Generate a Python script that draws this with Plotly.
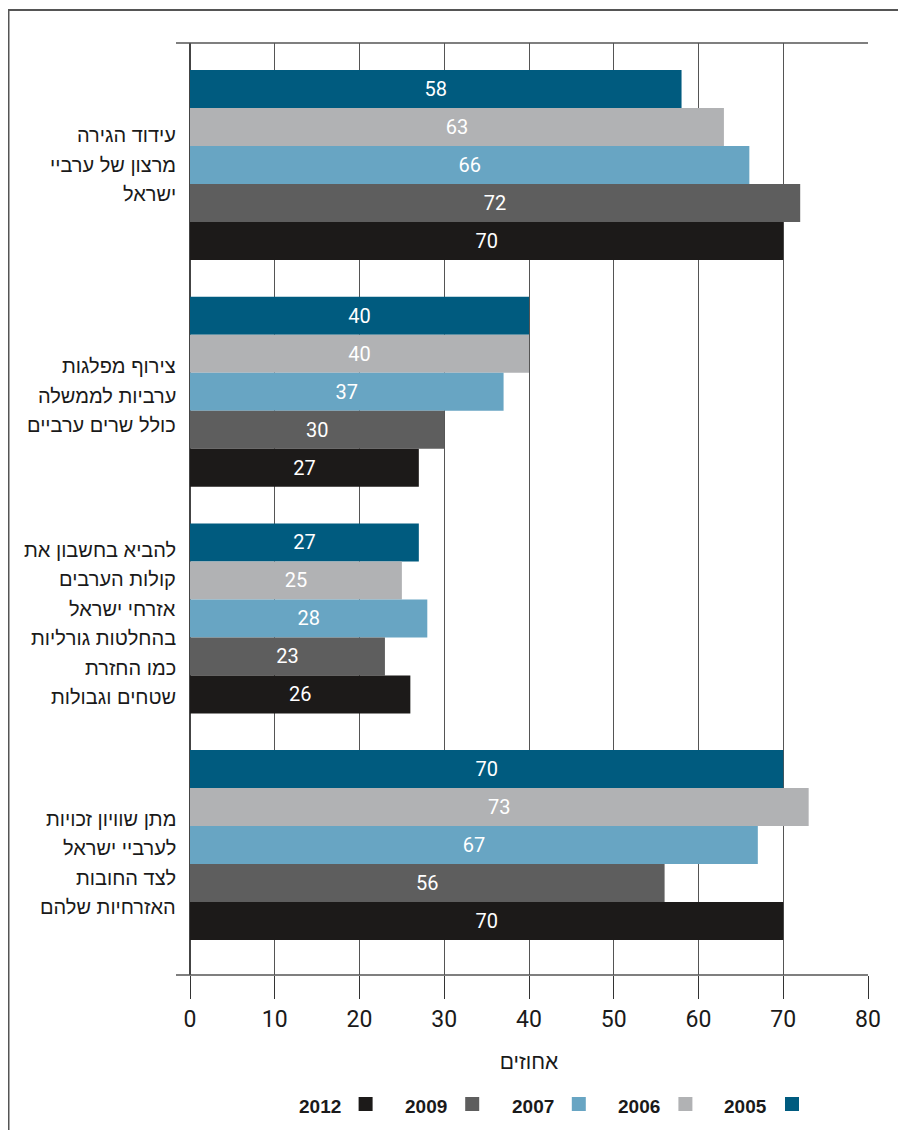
import plotly.graph_objects as go

categories = [
    "עידוד הגירה<br>מרצון של ערביי<br>ישראל",
    "צירוף מפלגות<br>ערביות לממשלה<br>כולל שרים ערביים",
    "להביא בחשבון את<br>קולות הערבים<br>אזרחי ישראל<br>בהחלטות גורליות<br>כמו החזרת<br>שטחים וגבולות",
    "מתן שוויון זכויות<br>לערביי ישראל<br>לצד החובות<br>האזרחיות שלהם",
]
years = ["2005", "2006", "2007", "2009", "2012"]
values_2005 = [58, 40, 27, 70]
values_2006 = [63, 40, 25, 73]
values_2007 = [66, 37, 28, 67]
values_2009 = [72, 30, 23, 56]
values_2012 = [70, 27, 26, 70]
series = [values_2005, values_2006, values_2007, values_2009, values_2012]
colors = ["#005B7F", "#B1B2B4", "#68A5C3", "#5E5E5E", "#1C1A19"]
x_ticks = [0, 10, 20, 30, 40, 50, 60, 70, 80]
x_title = "אחוזים"

NUMF = "Roboto, Liberation Sans, sans-serif"
HEBF = "Liberation Sans, Arial, sans-serif"

OFF = 8  # page body margin
W, H = 906 - OFF, 1130 - OFF
L, R, T, B = 190 - OFF, 868 - OFF, 43 - OFF, 975 - OFF
pw, ph = R - L, B - T

def px_x(p):
    return (p - OFF - L) / pw

def px_y(p):
    return (B - (p - OFF)) / ph

fig = go.Figure()
ypos = list(range(len(categories)))
for yr, vals, col in zip(years, series, colors):
    fig.add_trace(go.Bar(
        y=ypos, x=vals, name=yr, orientation="h",
        marker=dict(color=col, line=dict(width=0)),
        text=vals, texttemplate="%{x}", textposition="inside",
        insidetextanchor="middle", textangle=0,
        textfont=dict(color="white", size=20, family=NUMF),
        showlegend=False,
    ))

shapes = []
# frame
shapes.append(dict(type="rect", xref="paper", yref="paper",
                   x0=px_x(8.5), x1=px_x(915), y0=px_y(1145), y1=px_y(10),
                   line=dict(color="#555555", width=2), fillcolor="rgba(0,0,0,0)"))
# top and bottom axis lines extending left
for yp in (0, 1):
    shapes.append(dict(type="line", xref="paper", yref="paper",
                       x0=px_x(176), x1=1, y0=yp, y1=yp,
                       line=dict(color="#555555", width=1.5)))

annotations = []
LINE_H = 29.5
label_shift = [0, 4, 5, 18]  # px, downward offset of each label block
for i, c in enumerate(categories):
    lines = c.split("<br>")
    n = len(lines)
    for j, ln in enumerate(lines):
        dy = (j - (n - 1) / 2) * LINE_H + label_shift[i]
        annotations.append(dict(x=px_x(178), xref="paper", y=i, yref="y",
                                yshift=-dy, text=ln, showarrow=False,
                                xanchor="right", yanchor="middle", align="right",
                                font=dict(size=20, color="#1a1a1a", family=HEBF)))

# manual legend (RTL: square to the right of the year)
for k, (yr, col) in enumerate(zip(years, colors)):
    sq_left = 785 - k * 106.6
    shapes.append(dict(type="rect", xref="paper", yref="paper",
                       x0=px_x(sq_left), x1=px_x(sq_left + 14),
                       y0=px_y(1111), y1=px_y(1097),
                       fillcolor=col, line=dict(width=0)))
    annotations.append(dict(x=px_x(sq_left - 16), xref="paper", y=px_y(1106),
                            yref="paper", text="<b>" + yr + "</b>", showarrow=False,
                            xanchor="right", yanchor="middle",
                            font=dict(size=19, color="#1a1a1a",
                                      family="Liberation Sans, Arial, sans-serif")))

fig.update_layout(
    width=W, height=H,
    margin=dict(l=L, r=W - R, t=T, b=H - B, pad=0),
    paper_bgcolor="white", plot_bgcolor="white",
    barmode="group", bargap=0.162, bargroupgap=0,
    shapes=shapes, annotations=annotations,
    xaxis=dict(range=[0, 80], tickvals=x_ticks, showgrid=True,
               gridcolor="#555555", gridwidth=1,
               zeroline=True, zerolinecolor="#444444", zerolinewidth=1.5,
               ticks="outside", ticklen=23, tickcolor="#333333", tickwidth=1,
               tickfont=dict(size=23, color="#1a1a1a", family=NUMF),
               title=dict(text=x_title, standoff=22,
                          font=dict(size=21, color="#1a1a1a", family=HEBF)),
               showline=False, fixedrange=True),
    yaxis=dict(range=[3.573, -0.538], showticklabels=False, showgrid=False,
               zeroline=False, ticks="", showline=False),
)

fig.write_html("out.html")
